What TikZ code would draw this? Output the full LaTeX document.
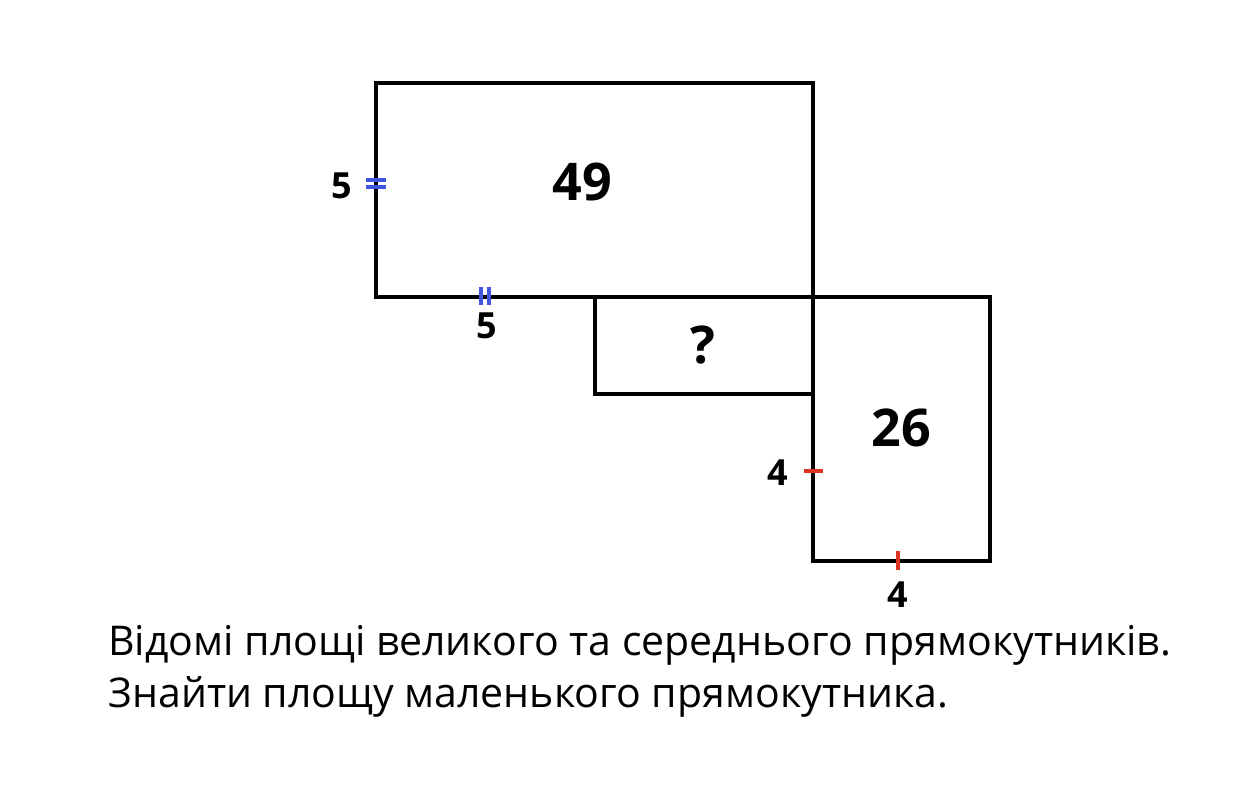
\documentclass[tikz,border=0pt]{standalone}
\usepackage{fontspec}
\setmainfont{Open Sans}
\usetikzlibrary{positioning}

\definecolor{tickblue}{HTML}{4455DD}
\definecolor{tickred}{HTML}{DD3322}

\tikzset{
  side/.style={line width=1.9pt},
  area/.style={font=\fontsize{26}{30}\selectfont\bfseries},
  len/.style={font=\fontsize{18}{22}\selectfont\bfseries},
  blue tick/.style={tickblue, line width=1.9pt},
  red tick/.style={tickred, line width=2pt},
  task/.style={font=\fontsize{20.5}{26}\selectfont, anchor=base west, inner sep=0pt}
}

\begin{document}
\begin{tikzpicture}[x=0.5pt, y=-0.5pt]
            \useasboundingbox (0,0) rectangle (1239,800);

            % rectangles
            \draw[side] (376,83) rectangle (813,297);
            \draw[side] (813,297) rectangle (990,561);
            \draw[side] (595,297) rectangle (813,394);

            % areas
            \node(big) [area] at (582,182) {49};
            \node(small) [area] at (703,345) {?};
            \node(mid) [area] at (901,428) {26};

            % equal marks
            \draw[blue tick] (366,180) -- (386,180);
            \draw[blue tick] (366,187) -- (386,187);
            \draw[blue tick] (481,287) -- (481,305);
            \draw[blue tick] (489,287) -- (489,305);
            \draw[red tick] (804,471) -- (823,471);
            \draw[red tick] (898,551) -- (898,570);

            % lengths
            \node(bigh) [len] at (342,186) {5};
            \node(bigw) [len] at (487,326) {5};
            \node(midh) [len] at (778,473) {4};
            \node(midw) [len] at (898,595) {4};

            % task
            \node(line1) [task] at (108,655) {Відомі площі великого та середнього прямокутників.};
            \node(line2) [task] at (108,707) {Знайти площу маленького прямокутника.};
        \end{tikzpicture}
\end{document}
